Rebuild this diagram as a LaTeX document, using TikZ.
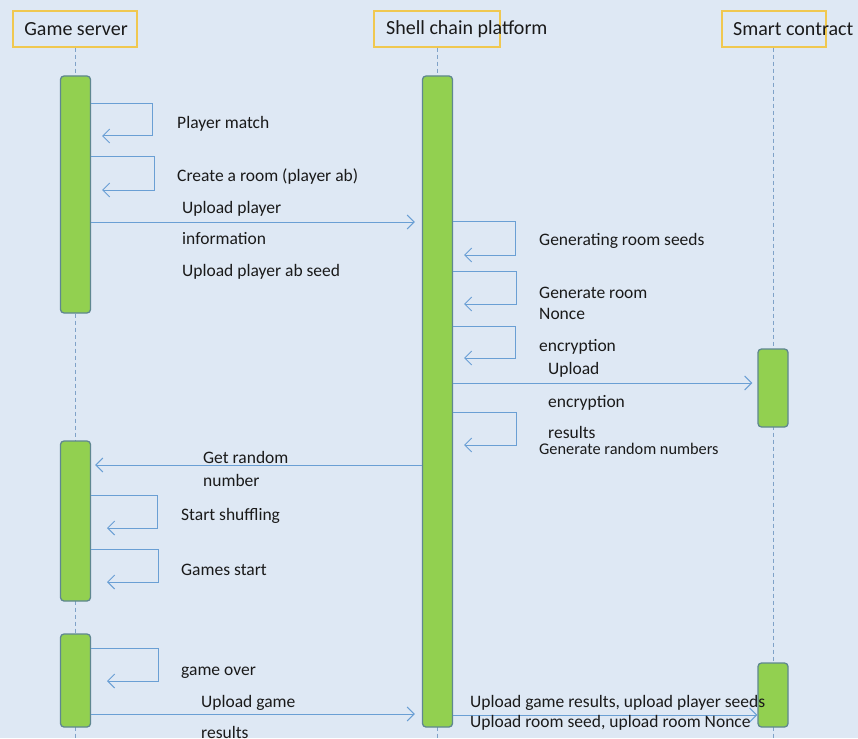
\documentclass[tikz,border=0pt]{standalone}
\usepackage{fontspec}
\setmainfont{Carlito}
\usetikzlibrary{arrows.meta}
\definecolor{bg}{HTML}{DEE8F4}
\definecolor{barfill}{HTML}{92D050}
\definecolor{barline}{HTML}{5F8790}
\definecolor{msg}{HTML}{6A9FD4}
\definecolor{hdr}{HTML}{F0C850}
\definecolor{life}{HTML}{7FA2C8}
\definecolor{txt}{HTML}{1A1A1A}
\begin{document}
\begin{tikzpicture}[x=1pt,y=-1pt,
  bar/.style={draw=barline, fill=barfill, line width=1.3pt, rounded corners=3.5pt, minimum width=30pt, inner sep=0pt},
  hbox/.style={draw=hdr, line width=1.2pt, inner sep=0pt, minimum height=36pt},
  htxt/.style={inner sep=0pt, font=\fontsize{20}{24}\selectfont, text=txt},
  lbl/.style={anchor=base west, inner sep=0pt, font=\fontsize{17.5}{21}\selectfont, text=txt},
  small/.style={font=\fontsize{16.3}{19}\selectfont},
  lifeline/.style={draw=life, line width=0.9pt, dash pattern=on 4pt off 3pt},
  msgline/.style={draw=msg, line width=1pt, -{Straight Barb[length=7pt,width=14pt,line width=1pt]}}
]
\fill[bg] (0,0) rectangle (858,738);
\useasboundingbox (0,0) rectangle (858,738);

% headers
\node[hbox, minimum width=124pt] (hgs) at (75,29) {};
\node[htxt] (tgs) at (76,29) {Game server};
\node[hbox, minimum width=126pt] (hsh) at (437,29) {};
\node[htxt, anchor=west] (tsh) at (386,29) {Shell chain platform};
\node[hbox, minimum width=104pt] (hsc) at (774,29) {};
\node[htxt, anchor=west] (tsc) at (733,29) {Smart contract};

% lifelines
\coordinate (egs) at (75,738);
\coordinate (esh) at (437,738);
\coordinate (esc) at (773,738);
\draw[lifeline] (hgs.south) -- (egs);
\draw[lifeline] (hsh.south) -- (esh);
\draw[lifeline] (hsc.south -| esc) -- (esc);

% activation bars
\node[bar, minimum height=237pt] (gs1) at (75.5,194.5) {};
\node[bar, minimum height=160pt] (gs2) at (75.5,521) {};
\node[bar, minimum height=93pt] (gs3) at (75.5,680.5) {};
\node[bar, minimum height=651pt] (sh) at (437.5,401.5) {};
\node[bar, minimum height=78pt] (sc1) at (773,388) {};
\node[bar, minimum height=64pt] (sc2) at (773,695) {};

% self loops on game server
\draw[msgline] (gs1.east |- 0,104) -- (152,104) |- (102,136);
\draw[msgline] (gs1.east |- 0,157) -- (154,157) |- (102,190);
\draw[msgline] (gs2.east |- 0,495) -- (157,495) |- (107,528);
\draw[msgline] (gs2.east |- 0,549) -- (158,549) |- (107,582);
\draw[msgline] (gs3.east |- 0,648) -- (158,648) |- (107,681);

% self loops on shell chain platform
\draw[msgline] (sh.east |- 0,221) -- (515,221) |- (464,255);
\draw[msgline] (sh.east |- 0,271) -- (516,271) |- (464,304);
\draw[msgline] (sh.east |- 0,326) -- (515,326) |- (464,358);
\draw[msgline] (sh.east |- 0,412) -- (516,412) |- (464,445);

% messages
\draw[msgline, shorten >=7pt] (gs1.east |- 0,222) -- (sh.west |- 0,222);
\draw[msgline, shorten >=5pt] (sh.east |- 0,383) -- (sc1.west |- 0,383);
\draw[msgline, shorten >=4pt] (sh.west |- 0,465) -- (gs2.east |- 0,465);
\draw[msgline, shorten >=7pt] (gs3.east |- 0,714) -- (sh.west |- 0,714);
\draw[msgline] (sh.east |- 0,715) -- (sc2.west |- 0,715);

% labels
\node[lbl] (l1) at (177,129) {Player match};
\node[lbl] (l2) at (177,181) {Create a room (player ab)};
\node[lbl] (l3a) at (182,213) {Upload player};
\node[lbl] (l3b) at (182,244) {information};
\node[lbl] (l3c) at (182,276) {Upload player ab seed};
\node[lbl] (l4) at (539,245) {Generating room seeds};
\node[lbl] (l5a) at (539,298) {Generate room};
\node[lbl] (l5b) at (539,319) {Nonce};
\node[lbl] (l6) at (539,351) {encryption};
\node[lbl] (l7a) at (548,374) {Upload};
\node[lbl] (l7b) at (548,407) {encryption};
\node[lbl] (l7c) at (548,438) {results};
\node[lbl, small] (l8) at (539,454) {Generate random numbers};
\node[lbl] (l9a) at (203,463) {Get random};
\node[lbl] (l9b) at (203,486) {number};
\node[lbl] (l10) at (181,520) {Start shuffling};
\node[lbl] (l11) at (181,575) {Games start};
\node[lbl] (l12) at (181,675) {game over};
\node[lbl] (l13a) at (201,707) {Upload game};
\node[lbl] (l13b) at (201,738) {results};
\node[lbl] (l14a) at (470,707) {Upload game results, upload player seeds};
\node[lbl] (l14b) at (470,727) {Upload room seed, upload room Nonce};
\end{tikzpicture}
\end{document}
